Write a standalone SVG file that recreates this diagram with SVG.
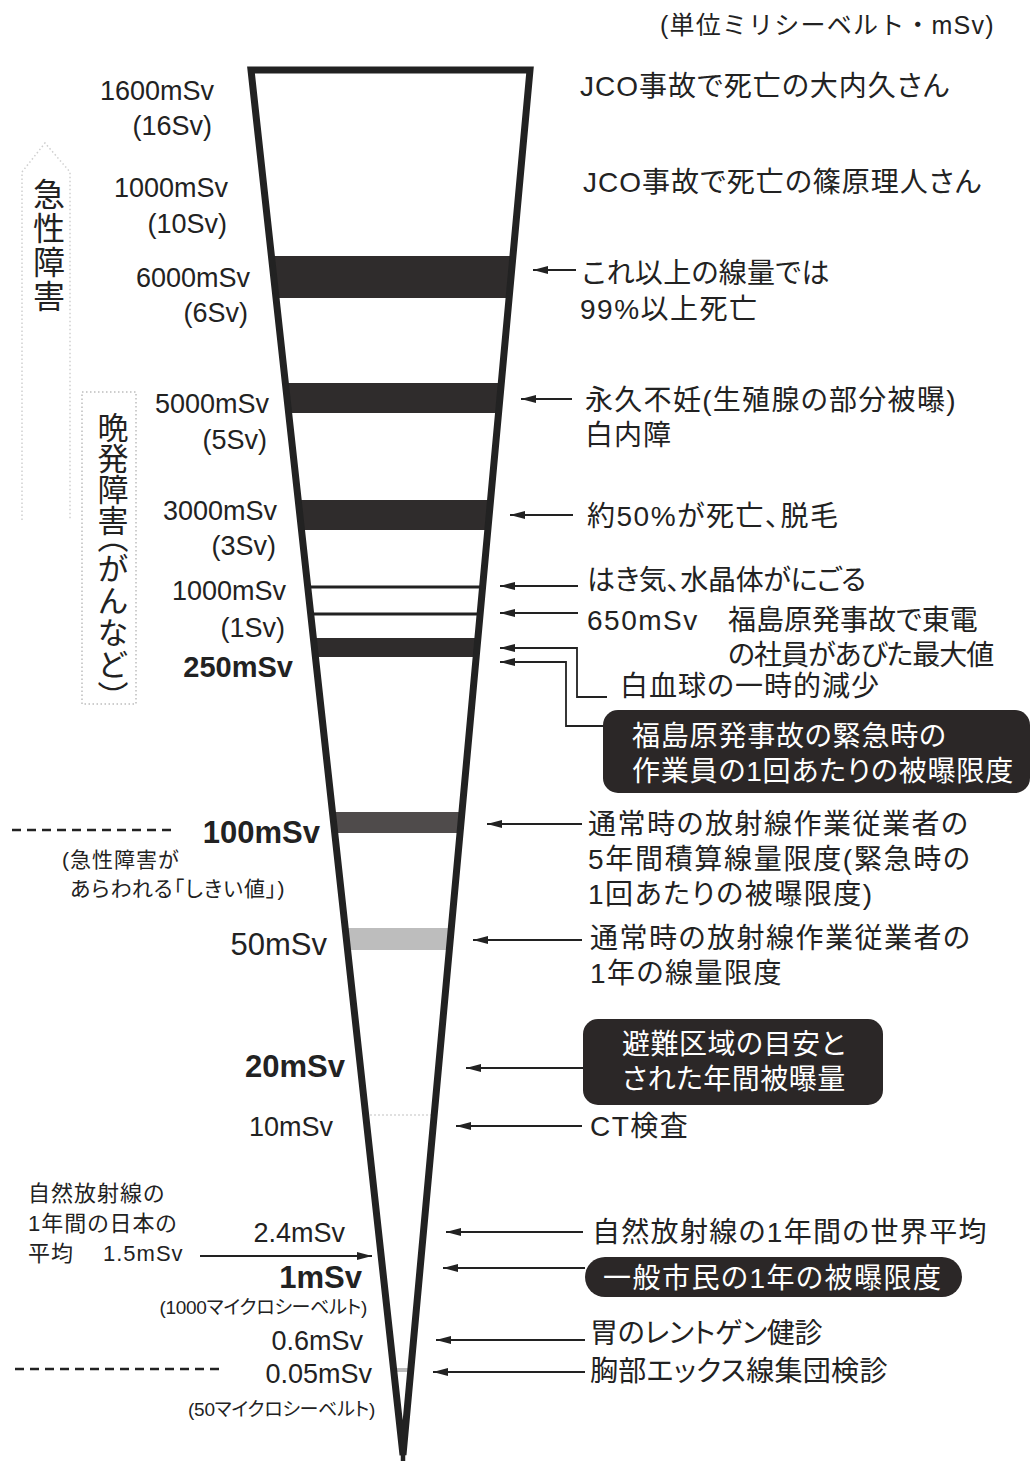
<svg xmlns="http://www.w3.org/2000/svg" width="1032" height="1461" viewBox="0 0 1032 1461">
<style>
 text { font-family: "Liberation Sans","Noto Sans CJK JP",sans-serif; fill:#222; }
 .jp { font-size:28px; font-feature-settings:"palt"; letter-spacing:1px; }
 .num { font-size:27px; text-anchor:end; }
 .numb { font-weight:bold; text-anchor:end; }
 .sm { font-size:21px; font-feature-settings:"palt"; letter-spacing:1px; }
 .xs { font-size:19px; font-feature-settings:"palt"; text-anchor:end; letter-spacing:-0.3px; }
 .wt { fill:#fff; font-size:28px; font-feature-settings:"palt"; letter-spacing:0.8px; }
 .conn { stroke:#222; stroke-width:1.8; fill:none; marker-end:url(#ah); }
 .dash { stroke:#222; stroke-width:2.5; stroke-dasharray:9 6; fill:none; }
 .band { fill:#2f2c2c; }
 .box { fill:#2b2727; }
 .faint { stroke:#cfcfcf; stroke-width:1.5; stroke-dasharray:1.5 2.5; fill:none; }
 .vert { writing-mode:vertical-rl; }
</style>
<defs>
 <marker id="ah" markerUnits="userSpaceOnUse" markerWidth="15" markerHeight="9" refX="15" refY="4.5" orient="auto">
  <path d="M0,0.5 L15,4.5 L0,8.5 Z" fill="#222"/>
 </marker>
</defs>

<g id="side-labels">
 <polyline class="faint" points="22,520 22,172 45,143 70,172 70,520"/>
 <text class="vert" x="46" y="178" style="font-size:32px; letter-spacing:2px;">急性障害</text>
 <rect class="faint" x="82" y="392" width="54" height="312" style="stroke:#bdbdbd"/>
 <text class="vert" x="110" y="412" style="font-size:31px;">晩発障害<tspan style="font-feature-settings:'vpal'; letter-spacing:2px">（がんなど）</tspan></text>
</g>

<g id="funnel">
 <polygon class="band" points="271.4,256 512.9,256 509.1,298 276,298"/>
 <polygon class="band" points="285.4,383 501.3,383 498.5,413 288.6,413"/>
 <polygon class="band" points="298.2,500 490.6,500 487.8,530 301.5,530"/>
 <line x1="307.7" y1="587" x2="482.6" y2="587" stroke="#222" stroke-width="3"/>
 <line x1="310.7" y1="614" x2="480.1" y2="614" stroke="#222" stroke-width="3"/>
 <polygon class="band" points="313.3,638 477.9,638 476.2,657 315.4,657"/>
 <polygon points="332.4,812 462,812 460,833 334.7,833" fill="#4f4b4b"/>
 <polygon points="345.2,928 451.3,928 449.3,950 347.6,950" fill="#bdbdbd"/>
 <line x1="366" y1="1115" x2="434" y2="1115" stroke="#d6d6d6" stroke-width="1.5" stroke-dasharray="2 2"/>
 <rect x="397" y="1368" width="11" height="4" fill="#bbb"/>
 <path d="M251,70 L403,1455 L530,70 Z" fill="none" stroke="#222" stroke-width="7" stroke-linejoin="miter"/>
 <line x1="403" y1="1435" x2="403" y2="1461" stroke="#222" stroke-width="4.5"/>
</g>

<g id="dose-labels">
 <text class="num" x="214" y="100">1600mSv</text>
 <text class="num" x="212" y="135">(16Sv)</text>
 <text class="num" x="228" y="197">1000mSv</text>
 <text class="num" x="227" y="233">(10Sv)</text>
 <text class="num" x="250" y="287">6000mSv</text>
 <text class="num" x="248" y="322">(6Sv)</text>
 <text class="num" x="269" y="413">5000mSv</text>
 <text class="num" x="267" y="449">(5Sv)</text>
 <text class="num" x="277" y="520">3000mSv</text>
 <text class="num" x="276" y="555">(3Sv)</text>
 <text class="num" x="286" y="600">1000mSv</text>
 <text class="num" x="285" y="637">(1Sv)</text>
 <text class="numb" x="293" y="677" style="font-size:29px">250mSv</text>
 <text class="numb" x="320" y="843" style="font-size:31px">100mSv</text>
 <text class="sm" x="62" y="867">(急性障害が</text>
 <text class="sm" x="70" y="896">あらわれる「しきい値」)</text>
 <text class="num" x="327" y="955" style="font-size:31px">50mSv</text>
 <text class="numb" x="345" y="1077" style="font-size:31px">20mSv</text>
 <text class="num" x="333" y="1136">10mSv</text>
 <text class="sm" x="28" y="1201" style="font-size:22px">自然放射線の</text>
 <text class="sm" x="28" y="1231" style="font-size:22px">1年間の日本の</text>
 <text class="sm" x="28" y="1261" style="font-size:22px">平均<tspan x="103">1.5mSv</tspan></text>
 <text class="num" x="345" y="1242">2.4mSv</text>
 <text class="numb" x="362" y="1288" style="font-size:31px">1mSv</text>
 <text class="xs" x="367" y="1314">(1000マイクロシーベルト)</text>
 <text class="num" x="363" y="1350">0.6mSv</text>
 <text class="num" x="372" y="1383">0.05mSv</text>
 <text class="xs" x="375" y="1416">(50マイクロシーベルト)</text>
</g>

<g id="effect-labels">
 <text x="660" y="34" style="font-size:25px; letter-spacing:1.2px">(単位ミリシーベルト・mSv)</text>
 <text class="jp" x="580" y="96">JCO事故で死亡の大内久さん</text>
 <text class="jp" x="583" y="192">JCO事故で死亡の篠原理人さん</text>
 <text class="jp" x="582" y="283" style="letter-spacing:0.3px">これ以上の線量では</text>
 <text class="jp" x="580" y="319" style="letter-spacing:1.5px">99%以上死亡</text>
 <text class="jp" x="585" y="410" style="letter-spacing:1.3px">永久不妊(生殖腺の部分被曝)</text>
 <text class="jp" x="585" y="445">白内障</text>
 <text class="jp" x="587" y="526" style="letter-spacing:1.5px">約50%が死亡、脱毛</text>
 <text class="jp" x="587" y="590" style="letter-spacing:-0.3px">はき気、水晶体がにごる</text>
 <text class="jp" x="587" y="630" style="letter-spacing:1.5px">650mSv<tspan x="728" style="letter-spacing:0">福島原発事故で東電</tspan></text>
 <text class="jp" x="728" y="665" style="letter-spacing:-1px">の社員があびた最大値</text>
 <text class="jp" x="620" y="696">白血球の一時的減少</text>
 <text class="jp" x="588" y="834" style="letter-spacing:1.5px">通常時の放射線作業従業者の</text>
 <text class="jp" x="588" y="869" style="letter-spacing:1.7px">5年間積算線量限度(緊急時の</text>
 <text class="jp" x="588" y="904" style="letter-spacing:1.5px">1回あたりの被曝限度)</text>
 <text class="jp" x="590" y="948" style="letter-spacing:1.5px">通常時の放射線作業従業者の</text>
 <text class="jp" x="590" y="983" style="letter-spacing:1.5px">1年の線量限度</text>
 <text class="jp" x="590" y="1136" style="letter-spacing:1.5px">CT検査</text>
 <text class="jp" x="592" y="1242" style="letter-spacing:1.3px">自然放射線の1年間の世界平均</text>
 <text class="jp" x="590" y="1343" style="letter-spacing:-0.2px">胃のレントゲン健診</text>
 <text class="jp" x="590" y="1381" style="letter-spacing:0.3px">胸部エックス線集団検診</text>
</g>

<g id="box-emergency">
 <rect class="box" x="603" y="710" width="427" height="83" rx="15"/>
 <text class="wt" x="632" y="746">福島原発事故の緊急時の</text>
 <text class="wt" x="632" y="781">作業員の1回あたりの被曝限度</text>
</g>
<g id="box-evacuation">
 <rect class="box" x="583" y="1019" width="300" height="86" rx="15"/>
 <text class="wt" x="622" y="1054" style="letter-spacing:0.5px">避難区域の目安と</text>
 <text class="wt" x="622" y="1089" style="letter-spacing:0.5px">された年間被曝量</text>
</g>
<g id="box-public">
 <rect class="box" x="585" y="1257" width="377" height="40" rx="20"/>
 <text class="wt" x="603" y="1288" style="letter-spacing:1.5px">一般市民の1年の被曝限度</text>
</g>

<g id="connectors">
 <line class="conn" x1="576" y1="270" x2="533" y2="270"/>
 <line class="conn" x1="572" y1="399" x2="521" y2="399"/>
 <line class="conn" x1="573" y1="515" x2="510" y2="515"/>
 <line class="conn" x1="578" y1="586" x2="500" y2="586"/>
 <line class="conn" x1="578" y1="613" x2="500" y2="613"/>
 <polyline class="conn" points="607,697 577,697 577,648 500,648"/>
 <polyline class="conn" points="603,726 566,726 566,662 500,662"/>
 <line class="conn" x1="582" y1="824" x2="487" y2="824"/>
 <line class="conn" x1="582" y1="940" x2="473" y2="940"/>
 <line class="conn" x1="583" y1="1068" x2="466" y2="1068"/>
 <line class="conn" x1="582" y1="1126" x2="456" y2="1126"/>
 <line class="conn" x1="583" y1="1232" x2="446" y2="1232"/>
 <line class="conn" x1="585" y1="1268" x2="443" y2="1268"/>
 <line class="conn" x1="585" y1="1340" x2="436" y2="1340"/>
 <line class="conn" x1="585" y1="1372" x2="433" y2="1372"/>
 <line class="conn" x1="200" y1="1256" x2="372" y2="1256"/>
 <line class="dash" x1="12" y1="830" x2="174" y2="830"/>
 <line class="dash" x1="15" y1="1369" x2="219" y2="1369"/>
</g>
</svg>
